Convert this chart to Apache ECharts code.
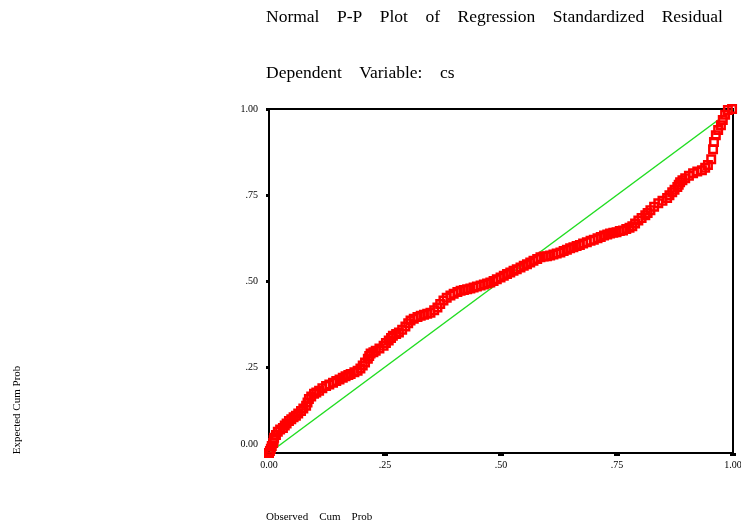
<!DOCTYPE html>
<html>
<head>
<meta charset="utf-8">
<script src="https://cdn.jsdelivr.net/npm/echarts@6/dist/echarts.min.js"></script>
<style>html,body{margin:0;padding:0;background:#fff;}#c{width:741px;height:526px;}</style>
</head>
<body>
<div id="c"></div>
<script>
var titleText = 'Normal    P-P    Plot    of    Regression    Standardized    Residual';
var subtitleText = 'Dependent    Variable:    cs';
var xAxisName = 'Observed    Cum    Prob';
var yAxisName = 'Expected Cum Prob';
var tickValues = [0, 0.25, 0.5, 0.75, 1];
var tickLabels = ['0.00', '.25', '.50', '.75', '1.00'];

var observed = [
 0.000,0.002,0.004,0.006,0.009,0.010,0.011,0.015,0.019,0.024,0.030,0.034,0.038,0.043,0.048,0.053,0.058,0.063,0.069,0.074,0.080,0.083,0.086,0.091,0.097,0.102,
 0.108,0.115,0.123,0.130,0.138,0.145,0.152,0.159,0.165,0.171,0.176,0.184,0.191,0.197,0.202,0.207,0.213,0.216,0.219,
 0.225,0.230,0.238,0.247,0.252,0.258,0.263,0.267,0.274,0.280,0.287,0.294,0.300,0.305,
 0.312,0.320,0.327,0.334,0.341,0.348,0.356,0.363,0.369,0.376,0.383,0.391,0.398,0.406,0.413,0.420,0.427,0.434,0.441,0.448,0.456,0.463,0.470,0.477,0.484,0.491,0.499,
 0.506,0.513,0.520,0.527,0.534,0.542,0.549,0.556,0.563,0.570,0.578,0.585,0.592,0.599,0.606,0.613,0.620,0.628,0.635,0.642,0.649,
 0.656,0.663,0.670,0.677,0.685,0.693,0.700,0.708,0.715,0.722,0.729,0.735,0.742,0.749,0.756,0.763,0.770,0.777,0.783,0.789,0.796,
 0.803,0.811,0.816,0.822,0.830,0.839,0.848,0.858,0.863,0.869,0.874,0.880,0.883,0.886,0.891,0.897,0.905,0.914,0.923,0.933,0.940,0.946,
 0.953,0.957,0.959,0.963,0.968,0.974,0.978,0.983,0.989,0.998
];
var expected = [
 0.000,0.006,0.012,0.020,0.029,0.037,0.044,0.052,0.062,0.068,0.073,0.080,0.086,0.093,0.098,0.104,0.108,0.115,0.122,0.129,0.137,0.147,0.157,0.164,0.172,0.176,
 0.181,0.188,0.195,0.199,0.204,0.209,0.214,0.219,0.223,0.227,0.230,0.235,0.239,0.246,0.254,0.263,0.274,0.282,0.289,
 0.293,0.297,0.304,0.312,0.320,0.327,0.334,0.341,0.346,0.350,0.358,0.368,0.377,0.385,
 0.390,0.395,0.399,0.402,0.405,0.408,0.415,0.423,0.433,0.443,0.451,0.458,0.463,0.468,0.472,0.474,0.476,0.478,0.481,0.484,0.487,0.490,0.493,0.496,0.500,0.505,0.510,
 0.515,0.520,0.525,0.530,0.534,0.539,0.544,0.549,0.554,0.559,0.564,0.569,0.571,0.572,0.574,0.577,0.580,0.583,0.587,0.591,0.595,
 0.598,0.602,0.605,0.609,0.613,0.617,0.620,0.624,0.628,0.632,0.635,0.638,0.640,0.642,0.645,0.647,0.651,0.655,0.659,0.667,0.676,
 0.683,0.691,0.698,0.706,0.716,0.726,0.733,0.741,0.749,0.758,0.765,0.773,0.780,0.787,0.793,0.799,0.806,0.813,0.818,0.822,0.829,0.837,
 0.854,0.883,0.904,0.924,0.939,0.953,0.968,0.983,0.997,1.000
];
var refLine = [[0, 0], [1, 1]];

var points = observed.map(function (x, i) { return [x, expected[i]]; });
var font = "'Liberation Serif','Times New Roman',serif";
function fmt(v) {
  for (var i = 0; i < tickValues.length; i++) {
    if (Math.abs(tickValues[i] - v) < 1e-9) return tickLabels[i];
  }
  return '';
}

var chart = echarts.init(document.getElementById('c'), null, {renderer: 'canvas'});
chart.setOption({
  animation: false,
  backgroundColor: '#fff',
  grid: {left: 269, top: 109, width: 464, height: 344, show: true, borderColor: '#000', borderWidth: 2,
         backgroundColor: 'transparent', containLabel: false, outerBoundsMode: 'none'},
  xAxis: {
    type: 'value', min: 0, max: 1, interval: 0.25, offset: 1,
    axisLine: {show: false},
    axisTick: {show: true, length: 3, lineStyle: {color: '#000', width: 6}},
    splitLine: {show: false},
    axisLabel: {fontFamily: font, fontSize: 10, color: '#000', margin: 6, formatter: fmt}
  },
  yAxis: {
    type: 'value', min: 0, max: 1, interval: 0.25, offset: 3,
    axisLine: {show: false},
    axisTick: {show: true, length: 3, lineStyle: {color: '#000', width: 3}},
    splitLine: {show: false},
    axisLabel: {
      fontFamily: font, fontSize: 10, color: '#000', margin: 8,
      formatter: function (v) { return v === 0 ? '{low|' + fmt(v) + '}' : fmt(v); },
      rich: {low: {fontFamily: font, fontSize: 10, color: '#000', padding: [0, 0, 18, 0]}}
    }
  },
  graphic: [
    {type: 'text', left: 266, top: 8, style: {text: titleText, font: "17.5px " + font, fill: '#000'}},
    {type: 'text', left: 266, top: 64, style: {text: subtitleText, font: "17.5px " + font, fill: '#000'}},
    {type: 'text', left: 266, top: 512, style: {text: xAxisName, font: "11px " + font, fill: '#000'}},
    {type: 'text', x: 17, y: 410, rotation: Math.PI / 2, style: {text: yAxisName, font: "11px " + font, fill: '#000', align: 'center', verticalAlign: 'middle'}}
  ],
  series: [
    {type: 'line', data: refLine, symbol: 'none', silent: true, lineStyle: {color: '#22dd22', width: 1.5}, z: 2},
    {type: 'scatter', data: points, symbol: 'rect', symbolSize: 7.5, clip: false, silent: true,
     itemStyle: {color: 'rgba(0,0,0,0)', borderColor: '#ff0000', borderWidth: 2.5, opacity: 1}, z: 3}
  ]
});
</script>
</body>
</html>
